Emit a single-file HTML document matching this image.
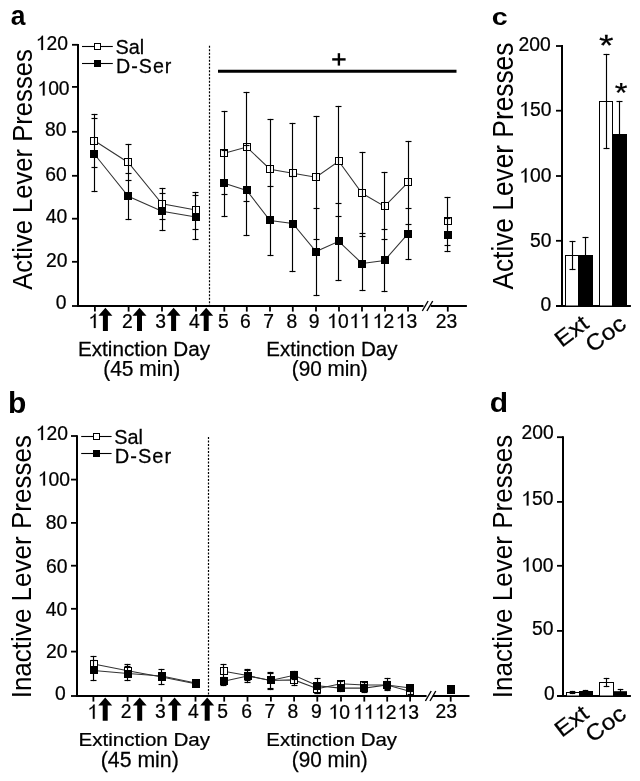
<!DOCTYPE html>
<html><head><meta charset="utf-8"><title>Figure</title><style>html,body{margin:0;padding:0;background:#fff;}svg{display:block;will-change:transform;}text{font-family:"Liberation Sans",sans-serif;}</style></head><body>
<svg width="640" height="781" viewBox="0 0 640 781" font-family="Liberation Sans, sans-serif" fill="#000">
<rect width="640" height="781" fill="#fff"/>
<line x1="78" y1="44" x2="78" y2="307" stroke="#000" stroke-width="2"/>
<line x1="72" y1="44.8" x2="78" y2="44.8" stroke="#000" stroke-width="1.8"/>
<line x1="72" y1="86.9" x2="78" y2="86.9" stroke="#000" stroke-width="1.8"/>
<line x1="72" y1="131.8" x2="78" y2="131.8" stroke="#000" stroke-width="1.8"/>
<line x1="72" y1="175.8" x2="78" y2="175.8" stroke="#000" stroke-width="1.8"/>
<line x1="72" y1="218.7" x2="78" y2="218.7" stroke="#000" stroke-width="1.8"/>
<line x1="72" y1="261.8" x2="78" y2="261.8" stroke="#000" stroke-width="1.8"/>
<line x1="72" y1="306" x2="78" y2="306" stroke="#000" stroke-width="1.8"/>
<line x1="77" y1="306" x2="423.5" y2="306" stroke="#000" stroke-width="2"/>
<line x1="430.6" y1="306" x2="466.9" y2="306" stroke="#000" stroke-width="2"/>
<line x1="422.3" y1="311" x2="428.1" y2="301" stroke="#000" stroke-width="1.4"/>
<line x1="426.9" y1="311" x2="432.7" y2="301" stroke="#000" stroke-width="1.4"/>
<line x1="94.9" y1="306" x2="94.9" y2="311.6" stroke="#000" stroke-width="1.8"/>
<line x1="128.6" y1="306" x2="128.6" y2="311.6" stroke="#000" stroke-width="1.8"/>
<line x1="162" y1="306" x2="162" y2="311.6" stroke="#000" stroke-width="1.8"/>
<line x1="196" y1="306" x2="196" y2="311.6" stroke="#000" stroke-width="1.8"/>
<line x1="224.3" y1="306" x2="224.3" y2="311.6" stroke="#000" stroke-width="1.8"/>
<line x1="246.8" y1="306" x2="246.8" y2="311.6" stroke="#000" stroke-width="1.8"/>
<line x1="270" y1="306" x2="270" y2="311.6" stroke="#000" stroke-width="1.8"/>
<line x1="292.8" y1="306" x2="292.8" y2="311.6" stroke="#000" stroke-width="1.8"/>
<line x1="316" y1="306" x2="316" y2="311.6" stroke="#000" stroke-width="1.8"/>
<line x1="339" y1="306" x2="339" y2="311.6" stroke="#000" stroke-width="1.8"/>
<line x1="362" y1="306" x2="362" y2="311.6" stroke="#000" stroke-width="1.8"/>
<line x1="385" y1="306" x2="385" y2="311.6" stroke="#000" stroke-width="1.8"/>
<line x1="408" y1="306" x2="408" y2="311.6" stroke="#000" stroke-width="1.8"/>
<line x1="447.8" y1="306" x2="447.8" y2="311.6" stroke="#000" stroke-width="1.8"/>
<line x1="209.5" y1="45.8" x2="209.5" y2="306" stroke="#000" stroke-width="1.2" stroke-dasharray="2 1.5"/>
<polyline points="94.5,140.75 128.25,162.5 162,203.75 195.75,210" fill="none" stroke="#333" stroke-width="1.05"/>
<polyline points="224.25,153.25 246.75,147 270,169.25 292.75,173.25 316,177.25 338.75,161.25 362,193.25 384.6,206.4 408.1,182.4" fill="none" stroke="#333" stroke-width="1.05"/>
<polyline points="94.5,154.25 128.25,196.25 162,211.25 195.75,217" fill="none" stroke="#333" stroke-width="1.05"/>
<polyline points="224.25,183.25 246.75,190.5 270,220.5 292.75,223.5 316,251.5 338.75,241.25 362,263.5 384.6,260.4 408.1,233.6" fill="none" stroke="#333" stroke-width="1.05"/>
<rect x="90.5" y="137.5" width="7" height="7" fill="#fff" stroke="#000" stroke-width="1"/>
<rect x="124.5" y="158.5" width="7" height="7" fill="#fff" stroke="#000" stroke-width="1"/>
<rect x="158.5" y="200.5" width="7" height="7" fill="#fff" stroke="#000" stroke-width="1"/>
<rect x="192.5" y="206.5" width="7" height="7" fill="#fff" stroke="#000" stroke-width="1"/>
<rect x="220.5" y="149.5" width="7" height="7" fill="#fff" stroke="#000" stroke-width="1"/>
<rect x="243.5" y="143.5" width="7" height="7" fill="#fff" stroke="#000" stroke-width="1"/>
<rect x="266.5" y="165.5" width="7" height="7" fill="#fff" stroke="#000" stroke-width="1"/>
<rect x="289.5" y="169.5" width="7" height="7" fill="#fff" stroke="#000" stroke-width="1"/>
<rect x="312.5" y="173.5" width="7" height="7" fill="#fff" stroke="#000" stroke-width="1"/>
<rect x="335.5" y="157.5" width="7" height="7" fill="#fff" stroke="#000" stroke-width="1"/>
<rect x="358.5" y="189.5" width="7" height="7" fill="#fff" stroke="#000" stroke-width="1"/>
<rect x="381.5" y="202.5" width="7" height="7" fill="#fff" stroke="#000" stroke-width="1"/>
<rect x="404.5" y="178.5" width="7" height="7" fill="#fff" stroke="#000" stroke-width="1"/>
<rect x="444.5" y="217.5" width="7" height="7" fill="#fff" stroke="#000" stroke-width="1"/>
<rect x="90" y="150" width="8" height="8" fill="#000"/>
<rect x="124" y="192" width="8" height="8" fill="#000"/>
<rect x="158" y="207" width="8" height="8" fill="#000"/>
<rect x="192" y="213" width="8" height="8" fill="#000"/>
<rect x="220" y="179" width="8" height="8" fill="#000"/>
<rect x="243" y="186" width="8" height="8" fill="#000"/>
<rect x="266" y="216" width="8" height="8" fill="#000"/>
<rect x="289" y="220" width="8" height="8" fill="#000"/>
<rect x="312" y="248" width="8" height="8" fill="#000"/>
<rect x="335" y="237" width="8" height="8" fill="#000"/>
<rect x="358" y="260" width="8" height="8" fill="#000"/>
<rect x="381" y="256" width="8" height="8" fill="#000"/>
<rect x="404" y="230" width="8" height="8" fill="#000"/>
<rect x="444" y="231" width="8" height="8" fill="#000"/>
<line x1="94.5" y1="113.9" x2="94.5" y2="192.1" stroke="#000" stroke-width="1.15"/>
<line x1="91.5" y1="114.5" x2="97.5" y2="114.5" stroke="#000" stroke-width="1.15"/>
<line x1="91.5" y1="167.5" x2="97.5" y2="167.5" stroke="#000" stroke-width="1.15"/>
<line x1="91.5" y1="118.5" x2="97.5" y2="118.5" stroke="#000" stroke-width="1.15"/>
<line x1="91.5" y1="191.5" x2="97.5" y2="191.5" stroke="#000" stroke-width="1.15"/>
<line x1="128.5" y1="143.9" x2="128.5" y2="220.1" stroke="#000" stroke-width="1.15"/>
<line x1="125.5" y1="144.5" x2="131.5" y2="144.5" stroke="#000" stroke-width="1.15"/>
<line x1="125.5" y1="180.5" x2="131.5" y2="180.5" stroke="#000" stroke-width="1.15"/>
<line x1="125.5" y1="173.5" x2="131.5" y2="173.5" stroke="#000" stroke-width="1.15"/>
<line x1="125.5" y1="219.5" x2="131.5" y2="219.5" stroke="#000" stroke-width="1.15"/>
<line x1="162.5" y1="187.9" x2="162.5" y2="231.1" stroke="#000" stroke-width="1.15"/>
<line x1="159.5" y1="188.5" x2="165.5" y2="188.5" stroke="#000" stroke-width="1.15"/>
<line x1="159.5" y1="219.5" x2="165.5" y2="219.5" stroke="#000" stroke-width="1.15"/>
<line x1="159.5" y1="193.5" x2="165.5" y2="193.5" stroke="#000" stroke-width="1.15"/>
<line x1="159.5" y1="230.5" x2="165.5" y2="230.5" stroke="#000" stroke-width="1.15"/>
<line x1="195.5" y1="191.9" x2="195.5" y2="240.1" stroke="#000" stroke-width="1.15"/>
<line x1="192.5" y1="192.5" x2="198.5" y2="192.5" stroke="#000" stroke-width="1.15"/>
<line x1="192.5" y1="229.5" x2="198.5" y2="229.5" stroke="#000" stroke-width="1.15"/>
<line x1="192.5" y1="195.5" x2="198.5" y2="195.5" stroke="#000" stroke-width="1.15"/>
<line x1="192.5" y1="239.5" x2="198.5" y2="239.5" stroke="#000" stroke-width="1.15"/>
<line x1="224.5" y1="110.9" x2="224.5" y2="217.1" stroke="#000" stroke-width="1.15"/>
<line x1="221.5" y1="111.5" x2="227.5" y2="111.5" stroke="#000" stroke-width="1.15"/>
<line x1="221.5" y1="194.5" x2="227.5" y2="194.5" stroke="#000" stroke-width="1.15"/>
<line x1="221.5" y1="150.5" x2="227.5" y2="150.5" stroke="#000" stroke-width="1.15"/>
<line x1="221.5" y1="216.5" x2="227.5" y2="216.5" stroke="#000" stroke-width="1.15"/>
<line x1="246.5" y1="91.9" x2="246.5" y2="236.1" stroke="#000" stroke-width="1.15"/>
<line x1="243.5" y1="92.5" x2="249.5" y2="92.5" stroke="#000" stroke-width="1.15"/>
<line x1="243.5" y1="201.5" x2="249.5" y2="201.5" stroke="#000" stroke-width="1.15"/>
<line x1="243.5" y1="145.5" x2="249.5" y2="145.5" stroke="#000" stroke-width="1.15"/>
<line x1="243.5" y1="235.5" x2="249.5" y2="235.5" stroke="#000" stroke-width="1.15"/>
<line x1="270.5" y1="118.9" x2="270.5" y2="256.1" stroke="#000" stroke-width="1.15"/>
<line x1="267.5" y1="119.5" x2="273.5" y2="119.5" stroke="#000" stroke-width="1.15"/>
<line x1="267.5" y1="219.5" x2="273.5" y2="219.5" stroke="#000" stroke-width="1.15"/>
<line x1="267.5" y1="186.5" x2="273.5" y2="186.5" stroke="#000" stroke-width="1.15"/>
<line x1="267.5" y1="255.5" x2="273.5" y2="255.5" stroke="#000" stroke-width="1.15"/>
<line x1="292.5" y1="122.9" x2="292.5" y2="272.1" stroke="#000" stroke-width="1.15"/>
<line x1="289.5" y1="123.5" x2="295.5" y2="123.5" stroke="#000" stroke-width="1.15"/>
<line x1="289.5" y1="223.5" x2="295.5" y2="223.5" stroke="#000" stroke-width="1.15"/>
<line x1="289.5" y1="176.5" x2="295.5" y2="176.5" stroke="#000" stroke-width="1.15"/>
<line x1="289.5" y1="271.5" x2="295.5" y2="271.5" stroke="#000" stroke-width="1.15"/>
<line x1="316.5" y1="115.9" x2="316.5" y2="296.1" stroke="#000" stroke-width="1.15"/>
<line x1="313.5" y1="116.5" x2="319.5" y2="116.5" stroke="#000" stroke-width="1.15"/>
<line x1="313.5" y1="239.5" x2="319.5" y2="239.5" stroke="#000" stroke-width="1.15"/>
<line x1="313.5" y1="208.5" x2="319.5" y2="208.5" stroke="#000" stroke-width="1.15"/>
<line x1="313.5" y1="295.5" x2="319.5" y2="295.5" stroke="#000" stroke-width="1.15"/>
<line x1="338.5" y1="105.9" x2="338.5" y2="281.1" stroke="#000" stroke-width="1.15"/>
<line x1="335.5" y1="106.5" x2="341.5" y2="106.5" stroke="#000" stroke-width="1.15"/>
<line x1="335.5" y1="216.5" x2="341.5" y2="216.5" stroke="#000" stroke-width="1.15"/>
<line x1="335.5" y1="203.5" x2="341.5" y2="203.5" stroke="#000" stroke-width="1.15"/>
<line x1="335.5" y1="280.5" x2="341.5" y2="280.5" stroke="#000" stroke-width="1.15"/>
<line x1="362.5" y1="151.9" x2="362.5" y2="291.1" stroke="#000" stroke-width="1.15"/>
<line x1="359.5" y1="152.5" x2="365.5" y2="152.5" stroke="#000" stroke-width="1.15"/>
<line x1="359.5" y1="233.5" x2="365.5" y2="233.5" stroke="#000" stroke-width="1.15"/>
<line x1="359.5" y1="236.5" x2="365.5" y2="236.5" stroke="#000" stroke-width="1.15"/>
<line x1="359.5" y1="290.5" x2="365.5" y2="290.5" stroke="#000" stroke-width="1.15"/>
<line x1="384.5" y1="171.9" x2="384.5" y2="292.1" stroke="#000" stroke-width="1.15"/>
<line x1="381.5" y1="172.5" x2="387.5" y2="172.5" stroke="#000" stroke-width="1.15"/>
<line x1="381.5" y1="239.5" x2="387.5" y2="239.5" stroke="#000" stroke-width="1.15"/>
<line x1="381.5" y1="229.5" x2="387.5" y2="229.5" stroke="#000" stroke-width="1.15"/>
<line x1="381.5" y1="291.5" x2="387.5" y2="291.5" stroke="#000" stroke-width="1.15"/>
<line x1="408.5" y1="140.9" x2="408.5" y2="260.1" stroke="#000" stroke-width="1.15"/>
<line x1="405.5" y1="141.5" x2="411.5" y2="141.5" stroke="#000" stroke-width="1.15"/>
<line x1="405.5" y1="224.5" x2="411.5" y2="224.5" stroke="#000" stroke-width="1.15"/>
<line x1="405.5" y1="208.5" x2="411.5" y2="208.5" stroke="#000" stroke-width="1.15"/>
<line x1="405.5" y1="259.5" x2="411.5" y2="259.5" stroke="#000" stroke-width="1.15"/>
<line x1="447.5" y1="196.9" x2="447.5" y2="252.1" stroke="#000" stroke-width="1.15"/>
<line x1="444.5" y1="197.5" x2="450.5" y2="197.5" stroke="#000" stroke-width="1.15"/>
<line x1="444.5" y1="245.5" x2="450.5" y2="245.5" stroke="#000" stroke-width="1.15"/>
<line x1="444.5" y1="218.5" x2="450.5" y2="218.5" stroke="#000" stroke-width="1.15"/>
<line x1="444.5" y1="251.5" x2="450.5" y2="251.5" stroke="#000" stroke-width="1.15"/>
<polygon points="105.4,307.8 112.4,315.8 107.9,315.8 107.9,330.9 102.9,330.9 102.9,315.8 98.4,315.8" fill="#000"/>
<polygon points="139.5,307.8 146.5,315.8 142,315.8 142,330.9 137,330.9 137,315.8 132.5,315.8" fill="#000"/>
<polygon points="173.6,307.8 180.6,315.8 176.1,315.8 176.1,330.9 171.1,330.9 171.1,315.8 166.6,315.8" fill="#000"/>
<polygon points="206.2,307.8 213.2,315.8 208.7,315.8 208.7,330.9 203.7,330.9 203.7,315.8 199.2,315.8" fill="#000"/>
<line x1="218" y1="71.3" x2="456.5" y2="71.3" stroke="#000" stroke-width="3"/>
<line x1="332.2" y1="59.4" x2="345.6" y2="59.4" stroke="#000" stroke-width="2.4"/>
<line x1="338.9" y1="53.2" x2="338.9" y2="65.6" stroke="#000" stroke-width="2.4"/>
<line x1="82" y1="46.5" x2="112.8" y2="46.5" stroke="#000" stroke-width="1.1"/>
<rect x="94.5" y="43.5" width="6" height="6" fill="#fff" stroke="#000" stroke-width="1"/>
<line x1="82" y1="63.5" x2="112.8" y2="63.5" stroke="#000" stroke-width="1.1"/>
<rect x="94" y="60" width="7" height="7" fill="#000"/>
<text transform="matrix(0.9793 0 0 1 115.4059 54.1973)" font-size="20.2703" stroke="#000" stroke-width="0.25">Sal</text>
<text transform="matrix(0.9847 0 0 1.0435 116.0274 73.2)" font-size="20" stroke="#000" stroke-width="0.25" letter-spacing="1">D-Ser</text>
<text transform="matrix(0.9434 0 0 1.0145 10.8075 24.5216)" font-size="28" font-weight="bold">a</text>
<g transform="matrix(0.9747 0 0 1 35.8115 49.8805)"><path transform="translate(0 0) scale(19.8)" d="M0.373 0L0.373 -0.716L0.316 -0.716C0.298 -0.664 0.258 -0.618 0.203 -0.58C0.172 -0.559 0.141 -0.545 0.109 -0.533L0.109 -0.462C0.165 -0.483 0.236 -0.527 0.282 -0.568L0.282 0Z" stroke="#000" stroke-width="0.0126"/><text x="11.0088" y="0" font-size="19.8" stroke="#000" stroke-width="0.25">2</text><text x="22.0176" y="0" font-size="19.8" stroke="#000" stroke-width="0.25">0</text></g>
<g transform="matrix(0.9747 0 0 1 37.4115 95.4805)"><path transform="translate(0 0) scale(19.8)" d="M0.373 0L0.373 -0.716L0.316 -0.716C0.298 -0.664 0.258 -0.618 0.203 -0.58C0.172 -0.559 0.141 -0.545 0.109 -0.533L0.109 -0.462C0.165 -0.483 0.236 -0.527 0.282 -0.568L0.282 0Z" stroke="#000" stroke-width="0.0126"/><text x="11.0088" y="0" font-size="19.8" stroke="#000" stroke-width="0.25">0</text><text x="22.0176" y="0" font-size="19.8" stroke="#000" stroke-width="0.25">0</text></g>
<text transform="matrix(0.9747 0 0 1 44.9305 136.231)" font-size="19.8" stroke="#000" stroke-width="0.25">80</text>
<text transform="matrix(0.9747 0 0 1 45.22 180.831)" font-size="19.8" stroke="#000" stroke-width="0.25">60</text>
<text transform="matrix(0.9747 0 0 1 45.6515 223.231)" font-size="19.8" stroke="#000" stroke-width="0.25">40</text>
<text transform="matrix(0.9747 0 0 1 46.02 266.631)" font-size="19.8" stroke="#000" stroke-width="0.25">20</text>
<text transform="matrix(0.9747 0 0 1 55.668 309.031)" font-size="19.8" stroke="#000" stroke-width="0.25">0</text>
<g transform="matrix(0.9747 0 0 1 88.4487 327.8805)"><path transform="translate(0 0) scale(19.8)" d="M0.373 0L0.373 -0.716L0.316 -0.716C0.298 -0.664 0.258 -0.618 0.203 -0.58C0.172 -0.559 0.141 -0.545 0.109 -0.533L0.109 -0.462C0.165 -0.483 0.236 -0.527 0.282 -0.568L0.282 0Z" stroke="#000" stroke-width="0.0126"/></g>
<text transform="matrix(0.9747 0 0 1 122.096 327.93)" font-size="19.8" stroke="#000" stroke-width="0.25">2</text>
<text transform="matrix(0.9747 0 0 1 155.1925 327.831)" font-size="19.8" stroke="#000" stroke-width="0.25">3</text>
<text transform="matrix(0.9747 0 0 1 188.8925 327.93)" font-size="19.8" stroke="#000" stroke-width="0.25">4</text>
<text transform="matrix(0.9747 0 0 1 217.8925 327.732)" font-size="19.8" stroke="#000" stroke-width="0.25">5</text>
<text transform="matrix(0.9747 0 0 1 240.096 327.831)" font-size="19.8" stroke="#000" stroke-width="0.25">6</text>
<text transform="matrix(0.9747 0 0 1 263.296 327.93)" font-size="19.8" stroke="#000" stroke-width="0.25">7</text>
<text transform="matrix(0.9747 0 0 1 286.5925 327.831)" font-size="19.8" stroke="#000" stroke-width="0.25">8</text>
<text transform="matrix(0.9747 0 0 1 308.696 327.831)" font-size="19.8" stroke="#000" stroke-width="0.25">9</text>
<g transform="matrix(0.9747 0 0 1 327.1647 327.8805)"><path transform="translate(0 0) scale(19.8)" d="M0.373 0L0.373 -0.716L0.316 -0.716C0.298 -0.664 0.258 -0.618 0.203 -0.58C0.172 -0.559 0.141 -0.545 0.109 -0.533L0.109 -0.462C0.165 -0.483 0.236 -0.527 0.282 -0.568L0.282 0Z" stroke="#000" stroke-width="0.0126"/><text x="11.0088" y="0" font-size="19.8" stroke="#000" stroke-width="0.25">0</text></g>
<g transform="matrix(0.9747 0 0 1 349.3833 327.8805)"><path transform="translate(0 0) scale(19.8)" d="M0.373 0L0.373 -0.716L0.316 -0.716C0.298 -0.664 0.258 -0.618 0.203 -0.58C0.172 -0.559 0.141 -0.545 0.109 -0.533L0.109 -0.462C0.165 -0.483 0.236 -0.527 0.282 -0.568L0.282 0Z" stroke="#000" stroke-width="0.0126"/><path transform="translate(11.0088 0) scale(19.8)" d="M0.373 0L0.373 -0.716L0.316 -0.716C0.298 -0.664 0.258 -0.618 0.203 -0.58C0.172 -0.559 0.141 -0.545 0.109 -0.533L0.109 -0.462C0.165 -0.483 0.236 -0.527 0.282 -0.568L0.282 0Z" stroke="#000" stroke-width="0.0126"/></g>
<g transform="matrix(0.9747 0 0 1 372.6612 327.8805)"><path transform="translate(0 0) scale(19.8)" d="M0.373 0L0.373 -0.716L0.316 -0.716C0.298 -0.664 0.258 -0.618 0.203 -0.58C0.172 -0.559 0.141 -0.545 0.109 -0.533L0.109 -0.462C0.165 -0.483 0.236 -0.527 0.282 -0.568L0.282 0Z" stroke="#000" stroke-width="0.0126"/><text x="11.0088" y="0" font-size="19.8" stroke="#000" stroke-width="0.25">2</text></g>
<g transform="matrix(0.9747 0 0 1 395.7612 327.8805)"><path transform="translate(0 0) scale(19.8)" d="M0.373 0L0.373 -0.716L0.316 -0.716C0.298 -0.664 0.258 -0.618 0.203 -0.58C0.172 -0.559 0.141 -0.545 0.109 -0.533L0.109 -0.462C0.165 -0.483 0.236 -0.527 0.282 -0.568L0.282 0Z" stroke="#000" stroke-width="0.0126"/><text x="11.0088" y="0" font-size="19.8" stroke="#000" stroke-width="0.25">3</text></g>
<text transform="matrix(0.9747 0 0 1 435.692 327.831)" font-size="19.8" stroke="#000" stroke-width="0.25">23</text>
<text transform="matrix(1.024 0 0 1 77.9431 355.7553)" font-size="20.2128" stroke="#000" stroke-width="0.25">Extinction Day</text>
<text transform="matrix(0.9731 0 0 0.9984 103.1383 376.1725)" font-size="21.5957" stroke="#000" stroke-width="0.25">(45 min)</text>
<text transform="matrix(1.0146 0 0 1 266.3594 355.7553)" font-size="20.2128" stroke="#000" stroke-width="0.25">Extinction Day</text>
<text transform="matrix(0.96 0 0 0.9984 291.756 376.1725)" font-size="21.5957" stroke="#000" stroke-width="0.25">(90 min)</text>
<text transform="matrix(0 -0.9527 1.0369 0 31.7212 289.801)" font-size="26.8919">Active Lever Presses</text>
<line x1="77" y1="435.2" x2="77" y2="697" stroke="#000" stroke-width="2"/>
<line x1="71" y1="436" x2="77" y2="436" stroke="#000" stroke-width="1.8"/>
<line x1="71" y1="479.6" x2="77" y2="479.6" stroke="#000" stroke-width="1.8"/>
<line x1="71" y1="522.9" x2="77" y2="522.9" stroke="#000" stroke-width="1.8"/>
<line x1="71" y1="565.7" x2="77" y2="565.7" stroke="#000" stroke-width="1.8"/>
<line x1="71" y1="608.8" x2="77" y2="608.8" stroke="#000" stroke-width="1.8"/>
<line x1="71" y1="651.6" x2="77" y2="651.6" stroke="#000" stroke-width="1.8"/>
<line x1="71" y1="696" x2="77" y2="696" stroke="#000" stroke-width="1.8"/>
<line x1="76" y1="696" x2="426.6" y2="696" stroke="#000" stroke-width="2"/>
<line x1="432.8" y1="696" x2="469.5" y2="696" stroke="#000" stroke-width="2"/>
<line x1="425.4" y1="701" x2="431.2" y2="691" stroke="#000" stroke-width="1.4"/>
<line x1="430" y1="701" x2="435.8" y2="691" stroke="#000" stroke-width="1.4"/>
<line x1="93.4" y1="696" x2="93.4" y2="701.6" stroke="#000" stroke-width="1.8"/>
<line x1="127.6" y1="696" x2="127.6" y2="701.6" stroke="#000" stroke-width="1.8"/>
<line x1="161.4" y1="696" x2="161.4" y2="701.6" stroke="#000" stroke-width="1.8"/>
<line x1="195.5" y1="696" x2="195.5" y2="701.6" stroke="#000" stroke-width="1.8"/>
<line x1="224.2" y1="696" x2="224.2" y2="701.6" stroke="#000" stroke-width="1.8"/>
<line x1="247.5" y1="696" x2="247.5" y2="701.6" stroke="#000" stroke-width="1.8"/>
<line x1="270.9" y1="696" x2="270.9" y2="701.6" stroke="#000" stroke-width="1.8"/>
<line x1="294.1" y1="696" x2="294.1" y2="701.6" stroke="#000" stroke-width="1.8"/>
<line x1="317.3" y1="696" x2="317.3" y2="701.6" stroke="#000" stroke-width="1.8"/>
<line x1="341" y1="696" x2="341" y2="701.6" stroke="#000" stroke-width="1.8"/>
<line x1="364.3" y1="696" x2="364.3" y2="701.6" stroke="#000" stroke-width="1.8"/>
<line x1="387.2" y1="696" x2="387.2" y2="701.6" stroke="#000" stroke-width="1.8"/>
<line x1="410.1" y1="696" x2="410.1" y2="701.6" stroke="#000" stroke-width="1.8"/>
<line x1="450.7" y1="696" x2="450.7" y2="701.6" stroke="#000" stroke-width="1.8"/>
<line x1="208.5" y1="437" x2="208.5" y2="696" stroke="#000" stroke-width="1.2" stroke-dasharray="2 1.5"/>
<polyline points="93.6,664 127.8,670.7 161.7,677 195.5,683.8" fill="none" stroke="#333" stroke-width="1.05"/>
<polyline points="223.7,671.3 247.5,675.6 270.6,680.5 294,679.9 317.4,688.7 340.6,683.8 364.1,684.9 387,685 410.5,691.5" fill="none" stroke="#333" stroke-width="1.05"/>
<polyline points="93.6,670.5 127.8,673.6 161.7,676 195.5,683" fill="none" stroke="#333" stroke-width="1.05"/>
<polyline points="223.7,681.2 247.5,676 270.6,680.5 294,675.3 317.4,685.7 340.6,688.1 364.1,688.1 387,685 410.5,688" fill="none" stroke="#333" stroke-width="1.05"/>
<rect x="90.5" y="660.5" width="7" height="7" fill="#fff" stroke="#000" stroke-width="1"/>
<rect x="124.5" y="667.5" width="7" height="7" fill="#fff" stroke="#000" stroke-width="1"/>
<rect x="158.5" y="673.5" width="7" height="7" fill="#fff" stroke="#000" stroke-width="1"/>
<rect x="192.5" y="680.5" width="7" height="7" fill="#fff" stroke="#000" stroke-width="1"/>
<rect x="220.5" y="667.5" width="7" height="7" fill="#fff" stroke="#000" stroke-width="1"/>
<rect x="244.5" y="672.5" width="7" height="7" fill="#fff" stroke="#000" stroke-width="1"/>
<rect x="267.5" y="676.5" width="7" height="7" fill="#fff" stroke="#000" stroke-width="1"/>
<rect x="290.5" y="676.5" width="7" height="7" fill="#fff" stroke="#000" stroke-width="1"/>
<rect x="313.5" y="685.5" width="7" height="7" fill="#fff" stroke="#000" stroke-width="1"/>
<rect x="337.5" y="680.5" width="7" height="7" fill="#fff" stroke="#000" stroke-width="1"/>
<rect x="360.5" y="681.5" width="7" height="7" fill="#fff" stroke="#000" stroke-width="1"/>
<rect x="383.5" y="681.5" width="7" height="7" fill="#fff" stroke="#000" stroke-width="1"/>
<rect x="406.5" y="688.5" width="7" height="7" fill="#fff" stroke="#000" stroke-width="1"/>
<rect x="447.5" y="686.5" width="7" height="7" fill="#fff" stroke="#000" stroke-width="1"/>
<rect x="90" y="666" width="8" height="8" fill="#000"/>
<rect x="124" y="670" width="8" height="8" fill="#000"/>
<rect x="158" y="672" width="8" height="8" fill="#000"/>
<rect x="192" y="679" width="8" height="8" fill="#000"/>
<rect x="220" y="677" width="8" height="8" fill="#000"/>
<rect x="244" y="672" width="8" height="8" fill="#000"/>
<rect x="267" y="676" width="8" height="8" fill="#000"/>
<rect x="290" y="671" width="8" height="8" fill="#000"/>
<rect x="313" y="682" width="8" height="8" fill="#000"/>
<rect x="337" y="684" width="8" height="8" fill="#000"/>
<rect x="360" y="684" width="8" height="8" fill="#000"/>
<rect x="383" y="681" width="8" height="8" fill="#000"/>
<rect x="406" y="684" width="8" height="8" fill="#000"/>
<rect x="447" y="685" width="8" height="8" fill="#000"/>
<line x1="93.5" y1="655.9" x2="93.5" y2="681.1" stroke="#000" stroke-width="1.15"/>
<line x1="90.5" y1="656.5" x2="96.5" y2="656.5" stroke="#000" stroke-width="1.15"/>
<line x1="90.5" y1="671.5" x2="96.5" y2="671.5" stroke="#000" stroke-width="1.15"/>
<line x1="90.5" y1="660.5" x2="96.5" y2="660.5" stroke="#000" stroke-width="1.15"/>
<line x1="90.5" y1="680.5" x2="96.5" y2="680.5" stroke="#000" stroke-width="1.15"/>
<line x1="127.5" y1="663.9" x2="127.5" y2="681.1" stroke="#000" stroke-width="1.15"/>
<line x1="124.5" y1="664.5" x2="130.5" y2="664.5" stroke="#000" stroke-width="1.15"/>
<line x1="124.5" y1="676.5" x2="130.5" y2="676.5" stroke="#000" stroke-width="1.15"/>
<line x1="124.5" y1="666.5" x2="130.5" y2="666.5" stroke="#000" stroke-width="1.15"/>
<line x1="124.5" y1="680.5" x2="130.5" y2="680.5" stroke="#000" stroke-width="1.15"/>
<line x1="161.5" y1="668.9" x2="161.5" y2="685.1" stroke="#000" stroke-width="1.15"/>
<line x1="158.5" y1="669.5" x2="164.5" y2="669.5" stroke="#000" stroke-width="1.15"/>
<line x1="158.5" y1="684.5" x2="164.5" y2="684.5" stroke="#000" stroke-width="1.15"/>
<line x1="158.5" y1="673.5" x2="164.5" y2="673.5" stroke="#000" stroke-width="1.15"/>
<line x1="158.5" y1="679.5" x2="164.5" y2="679.5" stroke="#000" stroke-width="1.15"/>
<line x1="223.5" y1="663.9" x2="223.5" y2="686.1" stroke="#000" stroke-width="1.15"/>
<line x1="220.5" y1="664.5" x2="226.5" y2="664.5" stroke="#000" stroke-width="1.15"/>
<line x1="220.5" y1="678.5" x2="226.5" y2="678.5" stroke="#000" stroke-width="1.15"/>
<line x1="220.5" y1="677.5" x2="226.5" y2="677.5" stroke="#000" stroke-width="1.15"/>
<line x1="220.5" y1="685.5" x2="226.5" y2="685.5" stroke="#000" stroke-width="1.15"/>
<line x1="247.5" y1="668.9" x2="247.5" y2="683.1" stroke="#000" stroke-width="1.15"/>
<line x1="244.5" y1="670.5" x2="250.5" y2="670.5" stroke="#000" stroke-width="1.15"/>
<line x1="244.5" y1="680.5" x2="250.5" y2="680.5" stroke="#000" stroke-width="1.15"/>
<line x1="244.5" y1="669.5" x2="250.5" y2="669.5" stroke="#000" stroke-width="1.15"/>
<line x1="244.5" y1="682.5" x2="250.5" y2="682.5" stroke="#000" stroke-width="1.15"/>
<line x1="270.5" y1="671.9" x2="270.5" y2="690.1" stroke="#000" stroke-width="1.15"/>
<line x1="267.5" y1="672.5" x2="273.5" y2="672.5" stroke="#000" stroke-width="1.15"/>
<line x1="267.5" y1="688.5" x2="273.5" y2="688.5" stroke="#000" stroke-width="1.15"/>
<line x1="267.5" y1="673.5" x2="273.5" y2="673.5" stroke="#000" stroke-width="1.15"/>
<line x1="267.5" y1="689.5" x2="273.5" y2="689.5" stroke="#000" stroke-width="1.15"/>
<line x1="294.5" y1="670.9" x2="294.5" y2="686.1" stroke="#000" stroke-width="1.15"/>
<line x1="291.5" y1="674.5" x2="297.5" y2="674.5" stroke="#000" stroke-width="1.15"/>
<line x1="291.5" y1="685.5" x2="297.5" y2="685.5" stroke="#000" stroke-width="1.15"/>
<line x1="291.5" y1="671.5" x2="297.5" y2="671.5" stroke="#000" stroke-width="1.15"/>
<line x1="291.5" y1="679.5" x2="297.5" y2="679.5" stroke="#000" stroke-width="1.15"/>
<line x1="317.5" y1="677.9" x2="317.5" y2="694.1" stroke="#000" stroke-width="1.15"/>
<line x1="314.5" y1="684.5" x2="320.5" y2="684.5" stroke="#000" stroke-width="1.15"/>
<line x1="314.5" y1="693.5" x2="320.5" y2="693.5" stroke="#000" stroke-width="1.15"/>
<line x1="314.5" y1="678.5" x2="320.5" y2="678.5" stroke="#000" stroke-width="1.15"/>
<line x1="314.5" y1="693.5" x2="320.5" y2="693.5" stroke="#000" stroke-width="1.15"/>
<line x1="340.5" y1="680.9" x2="340.5" y2="692.1" stroke="#000" stroke-width="1.15"/>
<line x1="337.5" y1="681.5" x2="343.5" y2="681.5" stroke="#000" stroke-width="1.15"/>
<line x1="337.5" y1="686.5" x2="343.5" y2="686.5" stroke="#000" stroke-width="1.15"/>
<line x1="337.5" y1="685.5" x2="343.5" y2="685.5" stroke="#000" stroke-width="1.15"/>
<line x1="337.5" y1="691.5" x2="343.5" y2="691.5" stroke="#000" stroke-width="1.15"/>
<line x1="364.5" y1="681.9" x2="364.5" y2="693.1" stroke="#000" stroke-width="1.15"/>
<line x1="361.5" y1="682.5" x2="367.5" y2="682.5" stroke="#000" stroke-width="1.15"/>
<line x1="361.5" y1="687.5" x2="367.5" y2="687.5" stroke="#000" stroke-width="1.15"/>
<line x1="361.5" y1="684.5" x2="367.5" y2="684.5" stroke="#000" stroke-width="1.15"/>
<line x1="361.5" y1="692.5" x2="367.5" y2="692.5" stroke="#000" stroke-width="1.15"/>
<line x1="387.5" y1="677.9" x2="387.5" y2="691.1" stroke="#000" stroke-width="1.15"/>
<line x1="384.5" y1="678.5" x2="390.5" y2="678.5" stroke="#000" stroke-width="1.15"/>
<line x1="384.5" y1="690.5" x2="390.5" y2="690.5" stroke="#000" stroke-width="1.15"/>
<line x1="384.5" y1="681.5" x2="390.5" y2="681.5" stroke="#000" stroke-width="1.15"/>
<line x1="384.5" y1="689.5" x2="390.5" y2="689.5" stroke="#000" stroke-width="1.15"/>
<line x1="410.5" y1="684.9" x2="410.5" y2="695.1" stroke="#000" stroke-width="1.15"/>
<line x1="407.5" y1="689.5" x2="413.5" y2="689.5" stroke="#000" stroke-width="1.15"/>
<line x1="407.5" y1="694.5" x2="413.5" y2="694.5" stroke="#000" stroke-width="1.15"/>
<line x1="407.5" y1="685.5" x2="413.5" y2="685.5" stroke="#000" stroke-width="1.15"/>
<line x1="407.5" y1="691.5" x2="413.5" y2="691.5" stroke="#000" stroke-width="1.15"/>
<polygon points="105.2,697.6 112.2,705.6 107.7,705.6 107.7,720.8 102.7,720.8 102.7,705.6 98.2,705.6" fill="#000"/>
<polygon points="139.7,697.6 146.7,705.6 142.2,705.6 142.2,720.8 137.2,720.8 137.2,705.6 132.7,705.6" fill="#000"/>
<polygon points="174.6,697.6 181.6,705.6 177.1,705.6 177.1,720.8 172.1,720.8 172.1,705.6 167.6,705.6" fill="#000"/>
<polygon points="207.2,697.6 214.2,705.6 209.7,705.6 209.7,720.8 204.7,720.8 204.7,705.6 200.2,705.6" fill="#000"/>
<line x1="81.2" y1="436.5" x2="111.6" y2="436.5" stroke="#000" stroke-width="1.1"/>
<rect x="93.5" y="433.5" width="6" height="6" fill="#fff" stroke="#000" stroke-width="1"/>
<line x1="81.2" y1="453.5" x2="111.6" y2="453.5" stroke="#000" stroke-width="1.1"/>
<rect x="93" y="450" width="7" height="7" fill="#000"/>
<text transform="matrix(0.9793 0 0 1 114.2028 444.3973)" font-size="20.2703" stroke="#000" stroke-width="0.25">Sal</text>
<text transform="matrix(1.0029 0 0 1.0435 114.7886 463.3969)" font-size="20" stroke="#000" stroke-width="0.25" letter-spacing="1">D-Ser</text>
<text transform="matrix(1.058 0 0 1.0079 7.9 413)" font-size="28.3562" font-weight="bold">b</text>
<g transform="matrix(0.9747 0 0 1 35.8115 439.8805)"><path transform="translate(0 0) scale(19.8)" d="M0.373 0L0.373 -0.716L0.316 -0.716C0.298 -0.664 0.258 -0.618 0.203 -0.58C0.172 -0.559 0.141 -0.545 0.109 -0.533L0.109 -0.462C0.165 -0.483 0.236 -0.527 0.282 -0.568L0.282 0Z" stroke="#000" stroke-width="0.0126"/><text x="11.0088" y="0" font-size="19.8" stroke="#000" stroke-width="0.25">2</text><text x="22.0176" y="0" font-size="19.8" stroke="#000" stroke-width="0.25">0</text></g>
<g transform="matrix(0.9747 0 0 1 37.8115 485.5805)"><path transform="translate(0 0) scale(19.8)" d="M0.373 0L0.373 -0.716L0.316 -0.716C0.298 -0.664 0.258 -0.618 0.203 -0.58C0.172 -0.559 0.141 -0.545 0.109 -0.533L0.109 -0.462C0.165 -0.483 0.236 -0.527 0.282 -0.568L0.282 0Z" stroke="#000" stroke-width="0.0126"/><text x="11.0088" y="0" font-size="19.8" stroke="#000" stroke-width="0.25">0</text><text x="22.0176" y="0" font-size="19.8" stroke="#000" stroke-width="0.25">0</text></g>
<text transform="matrix(0.9747 0 0 1 45.7305 528.831)" font-size="19.8" stroke="#000" stroke-width="0.25">80</text>
<text transform="matrix(0.9747 0 0 1 46.02 573.231)" font-size="19.8" stroke="#000" stroke-width="0.25">60</text>
<text transform="matrix(0.9747 0 0 1 45.6515 615.631)" font-size="19.8" stroke="#000" stroke-width="0.25">40</text>
<text transform="matrix(0.9747 0 0 1 46.02 658.231)" font-size="19.8" stroke="#000" stroke-width="0.25">20</text>
<text transform="matrix(0.9747 0 0 1 55.068 700.031)" font-size="19.8" stroke="#000" stroke-width="0.25">0</text>
<g transform="matrix(0.9747 0 0 1 87.4487 718.7805)"><path transform="translate(0 0) scale(19.8)" d="M0.373 0L0.373 -0.716L0.316 -0.716C0.298 -0.664 0.258 -0.618 0.203 -0.58C0.172 -0.559 0.141 -0.545 0.109 -0.533L0.109 -0.462C0.165 -0.483 0.236 -0.527 0.282 -0.568L0.282 0Z" stroke="#000" stroke-width="0.0126"/></g>
<text transform="matrix(0.9747 0 0 1 120.696 718.33)" font-size="19.8" stroke="#000" stroke-width="0.25">2</text>
<text transform="matrix(0.9747 0 0 1 154.9925 718.231)" font-size="19.8" stroke="#000" stroke-width="0.25">3</text>
<text transform="matrix(0.9747 0 0 1 187.8925 718.33)" font-size="19.8" stroke="#000" stroke-width="0.25">4</text>
<text transform="matrix(0.9747 0 0 1 217.1925 718.132)" font-size="19.8" stroke="#000" stroke-width="0.25">5</text>
<text transform="matrix(0.9747 0 0 1 241.296 718.231)" font-size="19.8" stroke="#000" stroke-width="0.25">6</text>
<text transform="matrix(0.9747 0 0 1 264.496 718.33)" font-size="19.8" stroke="#000" stroke-width="0.25">7</text>
<text transform="matrix(0.9747 0 0 1 287.3925 718.231)" font-size="19.8" stroke="#000" stroke-width="0.25">8</text>
<text transform="matrix(0.9747 0 0 1 311.096 718.231)" font-size="19.8" stroke="#000" stroke-width="0.25">9</text>
<g transform="matrix(0.9747 0 0 1 328.5648 718.7805)"><path transform="translate(0 0) scale(19.8)" d="M0.373 0L0.373 -0.716L0.316 -0.716C0.298 -0.664 0.258 -0.618 0.203 -0.58C0.172 -0.559 0.141 -0.545 0.109 -0.533L0.109 -0.462C0.165 -0.483 0.236 -0.527 0.282 -0.568L0.282 0Z" stroke="#000" stroke-width="0.0126"/><text x="11.0088" y="0" font-size="19.8" stroke="#000" stroke-width="0.25">0</text></g>
<g transform="matrix(0.9747 0 0 1 353.1833 718.7805)"><path transform="translate(0 0) scale(19.8)" d="M0.373 0L0.373 -0.716L0.316 -0.716C0.298 -0.664 0.258 -0.618 0.203 -0.58C0.172 -0.559 0.141 -0.545 0.109 -0.533L0.109 -0.462C0.165 -0.483 0.236 -0.527 0.282 -0.568L0.282 0Z" stroke="#000" stroke-width="0.0126"/><path transform="translate(11.0088 0) scale(19.8)" d="M0.373 0L0.373 -0.716L0.316 -0.716C0.298 -0.664 0.258 -0.618 0.203 -0.58C0.172 -0.559 0.141 -0.545 0.109 -0.533L0.109 -0.462C0.165 -0.483 0.236 -0.527 0.282 -0.568L0.282 0Z" stroke="#000" stroke-width="0.0126"/></g>
<g transform="matrix(0.9747 0 0 1 374.9612 718.7805)"><path transform="translate(0 0) scale(19.8)" d="M0.373 0L0.373 -0.716L0.316 -0.716C0.298 -0.664 0.258 -0.618 0.203 -0.58C0.172 -0.559 0.141 -0.545 0.109 -0.533L0.109 -0.462C0.165 -0.483 0.236 -0.527 0.282 -0.568L0.282 0Z" stroke="#000" stroke-width="0.0126"/><text x="11.0088" y="0" font-size="19.8" stroke="#000" stroke-width="0.25">2</text></g>
<g transform="matrix(0.9747 0 0 1 397.5613 718.7805)"><path transform="translate(0 0) scale(19.8)" d="M0.373 0L0.373 -0.716L0.316 -0.716C0.298 -0.664 0.258 -0.618 0.203 -0.58C0.172 -0.559 0.141 -0.545 0.109 -0.533L0.109 -0.462C0.165 -0.483 0.236 -0.527 0.282 -0.568L0.282 0Z" stroke="#000" stroke-width="0.0126"/><text x="11.0088" y="0" font-size="19.8" stroke="#000" stroke-width="0.25">3</text></g>
<text transform="matrix(0.9747 0 0 1 435.592 718.231)" font-size="19.8" stroke="#000" stroke-width="0.25">23</text>
<text transform="matrix(1.07 0 0 0.9662 78.5502 746.2352)" font-size="19.2553" stroke="#000" stroke-width="0.25">Extinction Day</text>
<text transform="matrix(1.0059 0 0 1.0395 100.7209 767.0075)" font-size="21.1702" stroke="#000" stroke-width="0.25">(45 min)</text>
<text transform="matrix(1.0617 0 0 0.9662 266.3645 746.2352)" font-size="19.2553" stroke="#000" stroke-width="0.25">Extinction Day</text>
<text transform="matrix(0.9795 0 0 1.0395 291.7477 767.0075)" font-size="21.1702" stroke="#000" stroke-width="0.25">(90 min)</text>
<text transform="matrix(0 -0.9542 1.0303 0 30.7188 698.3442)" font-size="27.2973">Inactive Lever Presses</text>
<line x1="562" y1="45.1" x2="562" y2="307" stroke="#000" stroke-width="2"/>
<line x1="556" y1="46" x2="562" y2="46" stroke="#000" stroke-width="1.8"/>
<line x1="556" y1="110.7" x2="562" y2="110.7" stroke="#000" stroke-width="1.8"/>
<line x1="556" y1="176" x2="562" y2="176" stroke="#000" stroke-width="1.8"/>
<line x1="556" y1="240.8" x2="562" y2="240.8" stroke="#000" stroke-width="1.8"/>
<line x1="556" y1="306" x2="562" y2="306" stroke="#000" stroke-width="1.8"/>
<line x1="556" y1="306" x2="630.9" y2="306" stroke="#000" stroke-width="2"/>
<rect x="565.5" y="255.5" width="13.5" height="50.5" fill="#fff" stroke="#000" stroke-width="1"/>
<rect x="578" y="255" width="15" height="51" fill="#000"/>
<rect x="599.5" y="101.5" width="13" height="204.5" fill="#fff" stroke="#000" stroke-width="1"/>
<rect x="612" y="134" width="15" height="172" fill="#000"/>
<line x1="572.5" y1="240.93" x2="572.5" y2="270.07" stroke="#000" stroke-width="1.15"/>
<line x1="569.5" y1="241.5" x2="575.5" y2="241.5" stroke="#000" stroke-width="1.15"/>
<line x1="569.5" y1="269.5" x2="575.5" y2="269.5" stroke="#000" stroke-width="1.15"/>
<line x1="585.5" y1="236.93" x2="585.5" y2="257.07" stroke="#000" stroke-width="1.15"/>
<line x1="582.5" y1="237.5" x2="588.5" y2="237.5" stroke="#000" stroke-width="1.15"/>
<line x1="606.5" y1="53.92" x2="606.5" y2="149.07" stroke="#000" stroke-width="1.15"/>
<line x1="603.5" y1="54.5" x2="609.5" y2="54.5" stroke="#000" stroke-width="1.15"/>
<line x1="603.5" y1="148.5" x2="609.5" y2="148.5" stroke="#000" stroke-width="1.15"/>
<line x1="619.5" y1="100.92" x2="619.5" y2="136.07" stroke="#000" stroke-width="1.15"/>
<line x1="616.5" y1="101.5" x2="622.5" y2="101.5" stroke="#000" stroke-width="1.15"/>
<text transform="matrix(1.3042 0 0 1.0101 599.0471 54.9134)" font-size="28.5714" stroke="#000" stroke-width="0.25">*</text>
<text transform="matrix(1.1546 0 0 0.9703 614.744 101.9473)" font-size="28.2857" stroke="#000" stroke-width="0.25">*</text>
<text transform="matrix(1.2113 0 0 1 491.8181 24.7636)" font-size="23.6364" font-weight="bold">c</text>
<text transform="matrix(0.9747 0 0 1 518.6 50.831)" font-size="19.8" stroke="#000" stroke-width="0.25">200</text>
<g transform="matrix(0.9747 0 0 1 519.3116 116.0805)"><path transform="translate(0 0) scale(19.8)" d="M0.373 0L0.373 -0.716L0.316 -0.716C0.298 -0.664 0.258 -0.618 0.203 -0.58C0.172 -0.559 0.141 -0.545 0.109 -0.533L0.109 -0.462C0.165 -0.483 0.236 -0.527 0.282 -0.568L0.282 0Z" stroke="#000" stroke-width="0.0126"/><text x="11.0088" y="0" font-size="19.8" stroke="#000" stroke-width="0.25">5</text><text x="22.0176" y="0" font-size="19.8" stroke="#000" stroke-width="0.25">0</text></g>
<g transform="matrix(0.9747 0 0 1 519.3116 182.3805)"><path transform="translate(0 0) scale(19.8)" d="M0.373 0L0.373 -0.716L0.316 -0.716C0.298 -0.664 0.258 -0.618 0.203 -0.58C0.172 -0.559 0.141 -0.545 0.109 -0.533L0.109 -0.462C0.165 -0.483 0.236 -0.527 0.282 -0.568L0.282 0Z" stroke="#000" stroke-width="0.0126"/><text x="11.0088" y="0" font-size="19.8" stroke="#000" stroke-width="0.25">0</text><text x="22.0176" y="0" font-size="19.8" stroke="#000" stroke-width="0.25">0</text></g>
<text transform="matrix(0.9747 0 0 1 529.9305 247.231)" font-size="19.8" stroke="#000" stroke-width="0.25">50</text>
<text transform="matrix(0.9747 0 0 1 540.468 311.431)" font-size="19.8" stroke="#000" stroke-width="0.25">0</text>
<text transform="matrix(0 -0.9313 1.0374 0 512.8847 289.6005)" font-size="28.2432">Active Lever Presses</text>
<text transform="translate(561.8 347.9) rotate(-37) scale(1.1 1)" font-size="22.5" stroke="#000" stroke-width="0.25">Ext</text>
<text transform="translate(592.5 353.3) rotate(-37) scale(1.1 1)" font-size="22.5" stroke="#000" stroke-width="0.25">Coc</text>
<line x1="563" y1="436.3" x2="563" y2="697" stroke="#000" stroke-width="2"/>
<line x1="557" y1="437.2" x2="563" y2="437.2" stroke="#000" stroke-width="1.8"/>
<line x1="557" y1="501.9" x2="563" y2="501.9" stroke="#000" stroke-width="1.8"/>
<line x1="557" y1="565.8" x2="563" y2="565.8" stroke="#000" stroke-width="1.8"/>
<line x1="557" y1="630.9" x2="563" y2="630.9" stroke="#000" stroke-width="1.8"/>
<line x1="557" y1="696" x2="563" y2="696" stroke="#000" stroke-width="1.8"/>
<line x1="557" y1="696" x2="630.9" y2="696" stroke="#000" stroke-width="2"/>
<rect x="566.5" y="692.5" width="13" height="3.5" fill="#fff" stroke="#000" stroke-width="1"/>
<rect x="579" y="691" width="14" height="5" fill="#000"/>
<rect x="599.5" y="682.5" width="14" height="13.5" fill="#fff" stroke="#000" stroke-width="1"/>
<rect x="614" y="691.2" width="13" height="4.8" fill="#000"/>
<line x1="572.5" y1="690.92" x2="572.5" y2="694.08" stroke="#000" stroke-width="1.15"/>
<line x1="569.75" y1="691.5" x2="575.25" y2="691.5" stroke="#000" stroke-width="1.15"/>
<line x1="569.75" y1="693.5" x2="575.25" y2="693.5" stroke="#000" stroke-width="1.15"/>
<line x1="585.5" y1="689.92" x2="585.5" y2="693.08" stroke="#000" stroke-width="1.15"/>
<line x1="582.75" y1="690.5" x2="588.25" y2="690.5" stroke="#000" stroke-width="1.15"/>
<line x1="606.5" y1="677.92" x2="606.5" y2="687.08" stroke="#000" stroke-width="1.15"/>
<line x1="603.65" y1="678.5" x2="609.35" y2="678.5" stroke="#000" stroke-width="1.15"/>
<line x1="603.65" y1="686.5" x2="609.35" y2="686.5" stroke="#000" stroke-width="1.15"/>
<line x1="620.5" y1="688.92" x2="620.5" y2="693.08" stroke="#000" stroke-width="1.15"/>
<line x1="617.7" y1="689.5" x2="623.3" y2="689.5" stroke="#000" stroke-width="1.15"/>
<text transform="matrix(1.1117 0 0 1.006 489.8 412)" font-size="26.9863" font-weight="bold">d</text>
<text transform="matrix(0.9747 0 0 1 521.6 439.231)" font-size="19.8" stroke="#000" stroke-width="0.25">200</text>
<g transform="matrix(0.9747 0 0 1 521.3116 505.4805)"><path transform="translate(0 0) scale(19.8)" d="M0.373 0L0.373 -0.716L0.316 -0.716C0.298 -0.664 0.258 -0.618 0.203 -0.58C0.172 -0.559 0.141 -0.545 0.109 -0.533L0.109 -0.462C0.165 -0.483 0.236 -0.527 0.282 -0.568L0.282 0Z" stroke="#000" stroke-width="0.0126"/><text x="11.0088" y="0" font-size="19.8" stroke="#000" stroke-width="0.25">5</text><text x="22.0176" y="0" font-size="19.8" stroke="#000" stroke-width="0.25">0</text></g>
<g transform="matrix(0.9747 0 0 1 521.3116 571.5805)"><path transform="translate(0 0) scale(19.8)" d="M0.373 0L0.373 -0.716L0.316 -0.716C0.298 -0.664 0.258 -0.618 0.203 -0.58C0.172 -0.559 0.141 -0.545 0.109 -0.533L0.109 -0.462C0.165 -0.483 0.236 -0.527 0.282 -0.568L0.282 0Z" stroke="#000" stroke-width="0.0126"/><text x="11.0088" y="0" font-size="19.8" stroke="#000" stroke-width="0.25">0</text><text x="22.0176" y="0" font-size="19.8" stroke="#000" stroke-width="0.25">0</text></g>
<text transform="matrix(0.9747 0 0 1 531.9305 635.431)" font-size="19.8" stroke="#000" stroke-width="0.25">50</text>
<text transform="matrix(0.9747 0 0 1 544.068 699.831)" font-size="19.8" stroke="#000" stroke-width="0.25">0</text>
<text transform="matrix(0 -0.9597 1.0151 0 511.7243 698.3476)" font-size="27.1622">Inactive Lever Presses</text>
<text transform="translate(561.8 737.9) rotate(-37) scale(1.1 1)" font-size="22.5" stroke="#000" stroke-width="0.25">Ext</text>
<text transform="translate(592.5 743.3) rotate(-37) scale(1.1 1)" font-size="22.5" stroke="#000" stroke-width="0.25">Coc</text>
</svg>
</body></html>
